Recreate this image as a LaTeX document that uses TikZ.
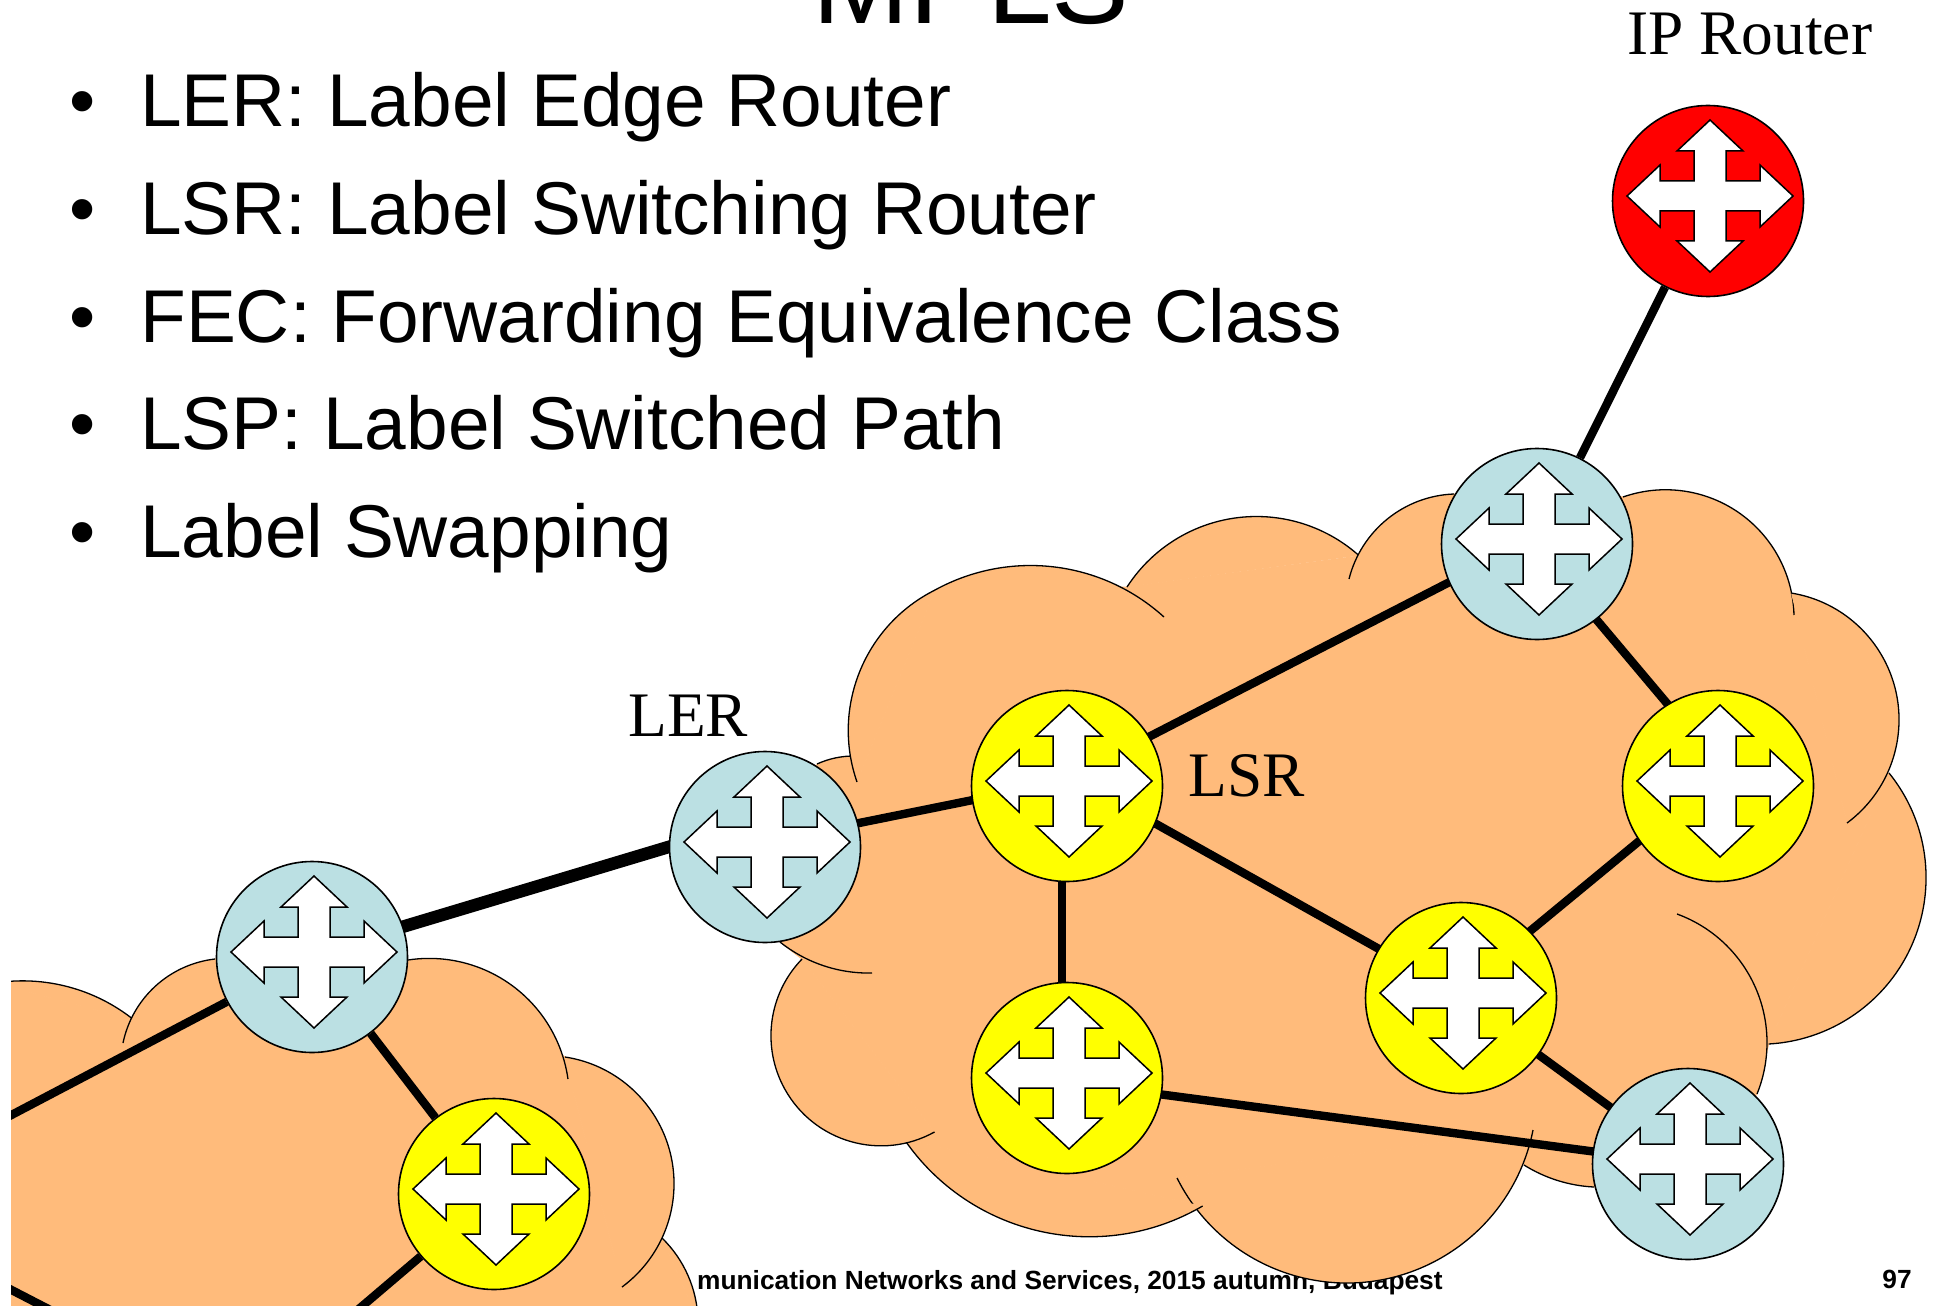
\documentclass[tikz,border=0pt]{standalone}
\usepackage{fontspec}
\setmainfont{Liberation Sans}
\newfontfamily\timesface{Liberation Serif}
\pgfdeclarelayer{bg}
\pgfdeclarelayer{linklayer}
\pgfsetlayers{bg,linklayer,main}
\definecolor{cloudorange}{RGB}{255,187,123}
\definecolor{lerblue}{RGB}{187,224,227}
\definecolor{coreyellow}{RGB}{255,255,0}
\definecolor{ipred}{RGB}{255,0,0}
\tikzset{
  routerbox/.style={circle,draw=black,line width=.8pt,minimum size=95.5pt,inner sep=0pt},
  crossarrow/.style={draw=black,fill=white,line width=.75pt,line join=miter,miter limit=4},
  lobeline/.style={draw=black,line width=.65pt},
  lobefill/.style={fill=cloudorange,draw=none},
  corefill/.style={fill=cloudorange,draw=cloudorange,line width=.5pt,line join=round},
  linkline/.style={draw=black,line width=4.2pt},
  thicklink/.style={draw=black,line width=6.3pt},
  bullettext/.style={anchor=base west,inner sep=0pt,font=\fontsize{37.4}{38}\selectfont},
  labeltext/.style={anchor=base west,inner sep=0pt,font=\timesface\fontsize{31.7}{32}\selectfont},
  foottext/.style={anchor=base east,inner sep=0pt,font=\bfseries\fontsize{13.15}{14}\selectfont},
}
\newcommand{\rtr}[4]{%
  \node[routerbox,fill=#4] (#1) at (#2,#3) {};
  \draw[crossarrow,shift={(#2+2,#3-5)}]
    (0,-76) -- (33,-45) -- (16,-45) -- (16,-15) -- (50,-15) -- (50,-31) -- (83,0)
    -- (50,31) -- (50,15) -- (16,15) -- (16,45) -- (33,45) -- (0,76)
    -- (-33,45) -- (-16,45) -- (-16,15) -- (-50,15) -- (-50,31) -- (-83,0)
    -- (-50,-31) -- (-50,-15) -- (-16,-15) -- (-16,-45) -- (-33,-45) -- cycle;
}
% circular arc through three points, filled up to its chord
\newcommand{\lobe}[6]{%
  \pgfmathsetmacro\lbAx{(#3-#1)/100}%
  \pgfmathsetmacro\lbAy{(#4-#2)/100}%
  \pgfmathsetmacro\lbBx{(#5-#1)/100}%
  \pgfmathsetmacro\lbBy{(#6-#2)/100}%
  \pgfmathsetmacro\lbD{2*(\lbAx*\lbBy-\lbAy*\lbBx)}%
  \pgfmathsetmacro\lbSa{\lbAx*\lbAx+\lbAy*\lbAy}%
  \pgfmathsetmacro\lbSb{\lbBx*\lbBx+\lbBy*\lbBy}%
  \pgfmathsetmacro\lbUx{(\lbBy*\lbSa-\lbAy*\lbSb)/\lbD}%
  \pgfmathsetmacro\lbUy{(\lbAx*\lbSb-\lbBx*\lbSa)/\lbD}%
  \pgfmathsetmacro\lbR{100*sqrt(\lbUx*\lbUx+\lbUy*\lbUy)}%
  \pgfmathsetmacro\lbTa{atan2(-\lbUy,-\lbUx)}%
  \pgfmathsetmacro\lbTm{atan2(\lbAy-\lbUy,\lbAx-\lbUx)}%
  \pgfmathsetmacro\lbTb{atan2(\lbBy-\lbUy,\lbBx-\lbUx)}%
  \pgfmathsetmacro\lbDm{Mod(\lbTm-\lbTa,360)}%
  \pgfmathsetmacro\lbDb{Mod(\lbTb-\lbTa,360)}%
  \pgfmathsetmacro\lbEnd{\lbTa+ifthenelse(\lbDm<\lbDb,\lbDb,\lbDb-360)}%
  \path[lobefill] (#1,#2) arc[start angle=\lbTa,end angle=\lbEnd,radius=\lbR] -- cycle;
  \path[lobeline] (#1,#2) arc[start angle=\lbTa,end angle=\lbEnd,radius=\lbR];
}
\begin{document}
\begin{tikzpicture}[x=.5pt,y=-.5pt]
\useasboundingbox (0,0) rectangle (1936,1305);

% texts
\node[anchor=base,inner sep=0pt,font=\fontsize{58.2}{59}\selectfont] (title) at (971,23.5) {MPLS};
\node[bullettext] (b1) at (69.5,127) {•};
\node[bullettext] (b2) at (69.5,234.8) {•};
\node[bullettext] (b3) at (69.5,342) {•};
\node[bullettext] (b4) at (69.5,449.8) {•};
\node[bullettext] (b5) at (69.5,557) {•};
\node[bullettext] (t1) at (140,127) {LER: Label Edge Router};
\node[bullettext] (t2) at (140,234.8) {LSR: Label Switching Router};
\node[bullettext] (t3) at (140,342) {FEC: Forwarding Equivalence Class};
\node[bullettext] (t4) at (140,449.8) {LSP: Label Switched Path};
\node[bullettext] (t5) at (140,557) {Label Swapping};
\node[labeltext] (iplabel) at (1627,55) {IP Router};
\node[labeltext] (lerlabel) at (628,736) {LER};
\node[labeltext] (lsrlabel) at (1188,796) {LSR};
\node[foottext] (pagenum) at (1912,1288) {97};

\begin{pgfonlayer}{bg}
\node[foottext] (footer) at (1443,1289) {munication Networks and Services, 2015 autumn, Budapest};

% main cloud
\path[corefill] (817,764) -- (855,756) -- (857,782) -- (935,590) -- (1127,587) -- (1359,556) -- (1454,494)
  -- (1623,497) -- (1791,593) -- (1847,823) -- (1889,773) -- (1768.6,1044) -- (1757,1094)
  -- (1688,1164) -- (1594,1187) -- (1524,1165) -- (1533,1130) -- (1177,1178) -- (1202.6,1206) -- (904,1139)
  -- (934.5,1132) -- (802,959) -- (780,942) -- cycle;
\lobe{817}{764}{835}{758}{855}{756}
\lobe{857}{782}{849}{715}{935}{590}
\lobe{935}{590}{1031}{565.5}{1164}{617}
\lobe{1127}{587}{1257}{516.5}{1359}{555.6}
\lobe{1349}{579}{1394}{514}{1454}{494}
\lobe{1623}{497}{1754}{525}{1794}{615}
\lobe{1791}{593}{1899}{720}{1847}{823}
\lobe{1889}{773}{1926}{874}{1768.6}{1044}
\lobe{1677}{914}{1767}{1044}{1757}{1094}
\lobe{1524}{1165}{1556}{1180}{1594}{1187}
\lobe{1533}{1130}{1346}{1283}{1177}{1178}
\lobe{1202.6}{1206}{1085}{1236.7}{904}{1139}
\lobe{934.5}{1132}{771}{1032}{802}{959}
\lobe{780}{942}{805}{958}{872}{973}

% lower left cloud
\begin{scope}
\clip (11,0) rectangle (1936,1305);
\path[corefill] (-5,983) -- (134,1020) -- (215,959) -- (408,960) -- (565,1057) -- (622,1287)
  -- (662,1238) -- (698,1320) -- (-5,1320) -- cycle;
\lobe{-5}{983}{30}{981}{134}{1020}
\lobe{123}{1043}{185}{967}{215}{959}
\lobe{408}{960}{504}{980}{568}{1079}
\lobe{565}{1057}{674}{1183}{622}{1287}
\lobe{662}{1238}{691}{1283}{698}{1320}
\end{scope}
\end{pgfonlayer}

% routers
\rtr{iprouter}{1708}{201}{ipred}
\rtr{edgetop}{1537}{544}{lerblue}
\rtr{coreright}{1718}{786}{coreyellow}
\rtr{coremid}{1461}{998}{coreyellow}
\rtr{edgebr}{1688}{1164}{lerblue}
\rtr{corela}{1067}{786}{coreyellow}
\rtr{corelb}{1067}{1078}{coreyellow}
\rtr{ler}{765}{847}{lerblue}
\rtr{edgell}{312}{957}{lerblue}
\rtr{corell}{494}{1194}{coreyellow}

\coordinate (freeA) at (0,1121);
\coordinate (freeB) at (0,1284);
\coordinate (freeC) at (60,1315);
\coordinate (freeD) at (340,1325);

\begin{pgfonlayer}{linklayer}
\draw[linkline] (iprouter) -- (edgetop);
\draw[linkline] ([yshift=3.5pt]edgetop.center) -- ([yshift=3.5pt]corela.center);
\draw[linkline] ([yshift=-2.5pt]edgetop.center) -- ([yshift=11pt]coreright.center);
\draw[linkline] ([yshift=5pt]coreright.center) -- ([yshift=5pt]coremid.center);
\draw[linkline] ([yshift=6pt]corela.center) -- ([yshift=1.5pt]coremid.center);
\draw[linkline] ([xshift=-2.5pt]corela.center) -- ([xshift=-2.5pt]corelb.center);
\draw[linkline] ([yshift=-2pt]corelb.center) -- (edgebr.center);
\draw[linkline] (coremid.center) -- (edgebr.center);
\draw[linkline] ([yshift=2.5pt]ler.center) -- ([yshift=2.5pt]corela.center);
\draw[thicklink] ([yshift=1.5pt]edgell.center) -- ([yshift=14.5pt]ler.center);
\draw[linkline] (edgell) -- (corell);
\begin{scope}
\clip (11,0) rectangle (1936,1305);
\draw[linkline] (edgell) -- (freeA);
\draw[linkline] (freeB) -- (freeC);
\draw[linkline] (corell) -- (freeD);
\end{scope}
\end{pgfonlayer}
\end{tikzpicture}
\end{document}
